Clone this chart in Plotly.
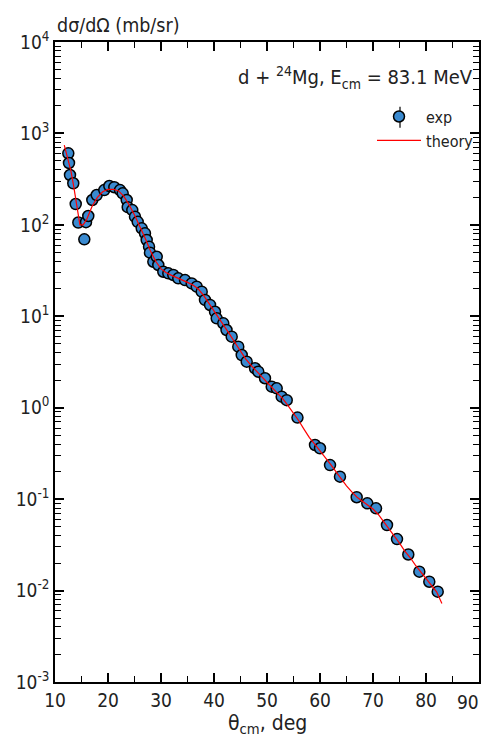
import plotly.graph_objects as go

# experimental data: theta_cm (deg), dsigma/dOmega (mb/sr)
exp_theta = [12.51, 12.64, 12.83, 13.45, 13.91, 14.40, 15.53, 15.85, 16.28, 17.04,
             17.87, 19.30, 20.25, 21.19, 22.26, 22.77, 23.53, 23.72, 24.58, 25.09,
             25.60, 26.36, 26.98, 27.30, 27.74, 27.92, 28.55, 29.19, 29.49, 30.43,
             31.38, 32.32, 33.26, 34.53, 35.79, 36.74, 37.68, 38.30, 39.25, 40.19,
             40.51, 41.75, 42.36, 43.34, 44.58, 45.23, 46.17, 47.74, 48.36, 49.62,
             50.89, 51.83, 52.77, 53.72, 55.75, 59.06, 60.00, 61.89, 63.77, 66.92,
             68.92, 70.57, 72.64, 74.53, 76.66, 78.74, 80.62, 82.21]
exp_sigma = [606, 475, 351, 285, 169, 106, 69.5, 107, 125, 187,
             212, 240, 266, 258, 240, 221, 187, 156, 145, 123,
             108, 91.6, 80.8, 68.3, 57.7, 49.6, 39.5, 44.8, 36.4, 30.7,
             29.5, 28.3, 26.0, 24.9, 22.9, 21.1, 18.6, 15.1, 13.3, 11.2,
             9.5, 8.38, 7.08, 5.98, 4.65, 3.77, 3.19, 2.70, 2.48, 2.10,
             1.70, 1.63, 1.32, 1.21, 0.78, 0.391, 0.360, 0.236, 0.176, 0.105,
             0.090, 0.0794, 0.0521, 0.0366, 0.0248, 0.0161, 0.0125, 0.00973]

# theory curve
th_theta = [11.75, 12.5, 13.0, 13.5, 14.0, 14.7, 15.3, 16.0, 17.0, 18.0, 19.0, 20.0,
            21.0, 22.0, 23.0, 24.0, 25.0, 26.0, 27.0, 28.0, 29.0, 30.0, 31.0, 32.0,
            33.0, 34.0, 35.0, 36.0, 37.0, 38.0, 39.0, 40.0, 41.0, 42.0, 43.0, 44.0,
            45.0, 46.0, 47.0, 48.0, 49.0, 50.0, 51.0, 52.0, 53.0, 54.0, 55.0, 56.0,
            57.0, 58.0, 59.0, 60.0, 61.0, 62.0, 63.0, 64.0, 65.0, 66.0, 67.0, 68.0,
            69.0, 70.0, 71.0, 72.0, 73.0, 74.0, 75.0, 76.0, 77.0, 78.0, 79.0, 80.0,
            81.0, 82.0, 83.0]
th_sigma = [746, 520, 390, 270, 170, 100, 100, 115, 160, 200, 230, 245,
            245, 235, 205, 165, 128, 97, 72, 52, 40, 33, 30, 28,
            26.5, 25, 23.5, 22, 20, 17, 14, 11.5, 9.5, 7.8, 6.3, 5.1,
            4.1, 3.4, 2.9, 2.5, 2.2, 1.9, 1.65, 1.45, 1.25, 1.05, 0.88, 0.72,
            0.58, 0.47, 0.40, 0.34, 0.29, 0.24, 0.20, 0.165, 0.14, 0.12, 0.105, 0.095,
            0.087, 0.078, 0.068, 0.057, 0.047, 0.039, 0.033, 0.027, 0.023, 0.019, 0.016, 0.0135,
            0.0115, 0.0097, 0.0072]

# axis ticks
y_exponents = [-3, -2, -1, 0, 1, 2, 3, 4]
y_tickvals = [10.0 ** e for e in y_exponents]
y_ticktext = ["10<sup>%d</sup>" % e for e in y_exponents]
y_minorvals = [m * 10.0 ** e for e in y_exponents[:-1] for m in range(2, 10)]
x_tickvals = [10, 20, 30, 40, 50, 60, 70, 80, 90]
x_ticktext = ["10", "20", "30", "40", "50", "60", "70", "80", "90"]
x_minorvals = [15, 25, 35, 45, 55, 65, 75, 85]

FONT = "Liberation Sans Narrow, DejaVu Sans Condensed, Arial Narrow, Liberation Sans, sans-serif"

fig = go.Figure()
fig.add_trace(go.Scatter(
    x=exp_theta, y=exp_sigma, mode="markers", name="exp",
    marker=dict(size=11, color="#3a8ad0", line=dict(color="black", width=1.5)),
    error_y=dict(type="percent", value=6, color="black", thickness=1, width=0),
))
fig.add_trace(go.Scatter(
    x=th_theta, y=th_sigma, mode="lines", name="theory",
    line=dict(color="red", width=1.2),
))

fig.update_layout(
    width=489, height=742,
    margin=dict(l=55, r=10, t=42, b=60, autoexpand=False),
    paper_bgcolor="white", plot_bgcolor="white",
    font=dict(family=FONT, size=19, color="#222"),
    showlegend=True,
    legend=dict(x=1.0, y=0.91, xanchor="right", yanchor="top",
                bgcolor="rgba(0,0,0,0)", font=dict(size=16), itemwidth=44,
                tracegroupgap=0),
    xaxis=dict(range=[10, 90], tickmode="array", tickvals=x_tickvals[:-1],
               ticktext=x_ticktext[:-1],
               ticks="inside", ticklen=9, tickcolor="black",
               tickwidth=1.5, showline=True, linecolor="black", linewidth=1.5,
               mirror="ticks", showgrid=False, zeroline=False,
               minor=dict(ticks="inside", ticklen=6, tickcolor="black", tickwidth=1.2,
                          tickmode="array", tickvals=x_minorvals),
               tickfont=dict(size=19)),
    yaxis=dict(type="log", range=[-3, 4], tickmode="array",
               tickvals=y_tickvals, ticktext=y_ticktext,
               ticks="inside", ticklen=9, tickcolor="black",
               tickwidth=1.5, showline=True, linecolor="black", linewidth=1.5,
               mirror="ticks", showgrid=False, zeroline=False,
               minor=dict(ticks="inside", ticklen=6, tickcolor="black", tickwidth=1.2,
                          tickmode="array", tickvals=y_minorvals),
               tickfont=dict(size=19)),
)

# last x tick label, kept inside the page like in the reference
fig.add_annotation(x=x_tickvals[-1], y=0, xref="x", yref="paper", xanchor="right", yanchor="top",
                   xshift=2, yshift=-7, text=x_ticktext[-1], showarrow=False, font=dict(size=19))

# error-bar stroke on the legend's "exp" symbol
fig.add_shape(type="line", xref="paper", yref="paper", x0=0.8137, x1=0.8137,
              y0=0.866, y1=0.899, line=dict(color="black", width=1.2))

fig.add_annotation(x=0.0, y=1.005, xref="paper", yref="paper", xanchor="left", yanchor="bottom",
                   text="dσ/dΩ (mb/sr)", showarrow=False, font=dict(size=19.5))
fig.add_annotation(x=0.5, y=-0.042, xref="paper", yref="paper", xanchor="center", yanchor="top",
                   text="θ<sub>cm</sub>, deg", showarrow=False, font=dict(size=21))
fig.add_annotation(x=0.99, y=0.945, xref="paper", yref="paper", xanchor="right", yanchor="middle",
                   text="d + <sup>24</sup>Mg, E<sub>cm</sub> = 83.1 MeV", showarrow=False,
                   font=dict(size=20))

fig.write_html("out.html")
